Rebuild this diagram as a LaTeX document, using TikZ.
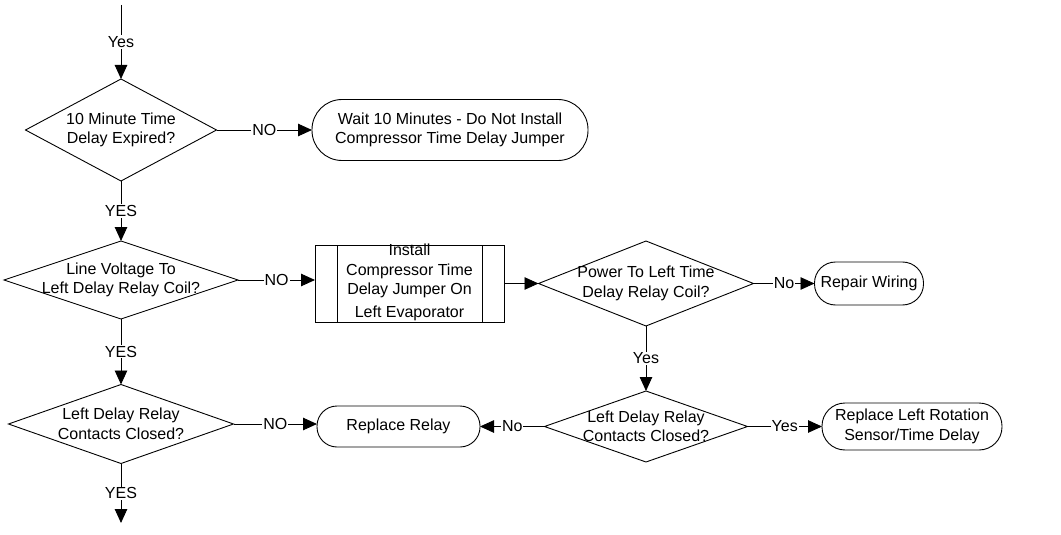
\documentclass[tikz,border=0pt]{standalone}
\usepackage{fontspec}
\setmainfont{Liberation Sans}
\usetikzlibrary{arrows.meta,shapes.geometric}
\begin{document}
\begin{tikzpicture}[x=1pt,y=-1pt,
  every node/.style={font=\fontsize{16}{19.5}\selectfont},
  dia/.style={draw, shape=diamond, inner sep=0pt, outer sep=0pt, line width=0.9pt},
  txt/.style={align=center, inner sep=0pt},
  term/.style={draw, rectangle, inner sep=0pt, outer sep=0pt, line width=0.9pt, align=center},
  proc/.style={draw, rectangle, inner sep=0pt, outer sep=0pt, line width=0.9pt},
  conn/.style={line width=0.9pt, -{Triangle[length=14pt,width=12.5pt]}},
  lbl/.style={fill=white, inner sep=1pt}
]
\useasboundingbox (0,0) rectangle (1061,535);

% decisions
\node[dia, minimum width=191, minimum height=102] (d1) at (121,130) {};
\node[txt] (t1) at (d1) {10 Minute Time\\Delay Expired?};
\node[dia, minimum width=234, minimum height=78] (d2) at (121,280) {};
\node[txt] (t2) at (d2) {Line Voltage To\\Left Delay Relay Coil?};
\node[dia, minimum width=225, minimum height=79] (d5) at (121,424) {};
\node[txt] (t5) at (d5) {Left Delay Relay\\Contacts Closed?};
\node[dia, minimum width=215, minimum height=85] (d3) at (646,283.5) {};
\node[txt] (t3) at (d3) {Power To Left Time\\Delay Relay Coil?};
\node[dia, minimum width=203, minimum height=71] (d4) at (646,426.5) {};
\node[txt] (t4) at (d4) {Left Delay Relay\\Contacts Closed?};

% terminals
\node[term, minimum width=276, minimum height=61, rounded corners=30] (w1) at (450,130) {Wait 10 Minutes - Do Not Install\\Compressor Time Delay Jumper};
\node[term, minimum width=109, minimum height=43, rounded corners=21] (rw) at (869,283.5) {Repair Wiring};
\node[term, minimum width=180, minimum height=47, rounded corners=23] (rl) at (912,426.5) {Replace Left Rotation\\Sensor/Time Delay};
\node[term, minimum width=163, minimum height=41, rounded corners=20] (rr) at (398.5,426.5) {Replace Relay};

% process
\node[proc, minimum width=189, minimum height=77] (pb) at (409.5,283.5) {};
\draw[line width=0.9pt] ([xshift=22]pb.north west) -- ([xshift=22]pb.south west);
\draw[line width=0.9pt] ([xshift=-22]pb.north east) -- ([xshift=-22]pb.south east);
\node[txt] (pt) at (409.5,282.5) {Install\\Compressor Time\\Delay Jumper On\\[3pt]Left Evaporator};

% free ends
\coordinate (start) at (121,5);
\coordinate (finish) at (121,523);

% connectors
\draw[conn] (start) -- node[lbl] {Yes} (d1.north);
\draw[conn] (d1.east) -- node[lbl] {NO} (w1.west);
\draw[conn] (d1.south) -- node[lbl] {YES} (d2.north);
\draw[conn] (d2.east) -- node[lbl] {NO} (d2.east -| pb.west);
\draw[conn] (pb.east) -- (d3.west);
\draw[conn] (d3.east) -- node[lbl] {No} (rw.west);
\draw[conn] (d3.south) -- node[lbl] {Yes} (d4.north);
\draw[conn] (d4.east) -- node[lbl] {Yes} (rl.west);
\draw[conn] (d4.west) -- node[lbl] {No} (rr.east);
\draw[conn] (d2.south) -- node[lbl] {YES} (d5.north);
\draw[conn] (d5.east) -- node[lbl] {NO} (d5.east -| rr.west);
\draw[conn] (d5.south) -- node[lbl] {YES} (finish);
\end{tikzpicture}
\end{document}
